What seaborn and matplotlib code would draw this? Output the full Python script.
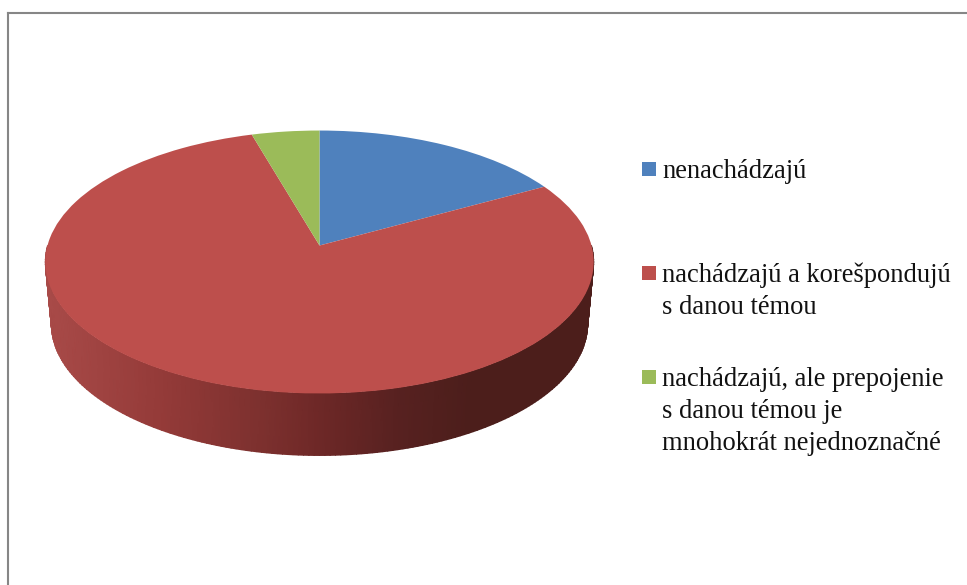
import numpy as np
import seaborn as sns
import matplotlib
matplotlib.use("Agg")
import matplotlib.pyplot as plt
from matplotlib.colors import LinearSegmentedColormap
from matplotlib.patches import Rectangle
from matplotlib.transforms import Transform

labels = ["nenachádzajú",
          "nachádzajú a korešpondujú\ns danou témou",
          "nachádzajú, ale prepojenie\ns danou témou je\nmnohokrát nejednoznačné"]
shares = [17.0, 78.5, 4.5]
colors = ["#4f81bd", "#bd4f4c", "#9bbb59"]

sns.set_theme(style="white")
plt.rcParams["font.family"] = ["Liberation Serif", "DejaVu Serif"]

W, H = 967, 585
# pie geometry in pixels, the apex is not in the middle of the ellipse (perspective)
APEX_X, APEX_Y = 319.5, 245.5
RX, RY, PERSP = 272.0, 129.4, 0.1255
DEPTH = 62.0
SHRINK = 0.978


class Tilt(Transform):
    # maps the flat unit pie to the tilted disc
    input_dims = 2
    output_dims = 2

    def transform_non_affine(self, values):
        values = np.asarray(values, dtype=float)
        d = 1 + PERSP * values[:, 1]
        return np.column_stack([APEX_X + RX * values[:, 0] / d,
                                APEX_Y - RY * values[:, 1] / d])


tilt = Tilt()

fig = plt.figure(figsize=(W / 100, H / 100), dpi=100)
left, top = 8, 13
ax = fig.add_axes([left / W, 0, 1 - left / W, 1 - top / H])

wedges, _ = ax.pie(shares, colors=colors, startangle=90, counterclock=False,
                   wedgeprops={"linewidth": 0})
ax.set_aspect("auto")
ax.set_frame_on(True)
ax.set_xlim(left, W)
ax.set_ylim(H, top)
for w in wedges:
    w.set_transform(tilt + ax.transData)
    w.set_zorder(2)

# side wall of the disc, shaded along x
wall_cmap = LinearSegmentedColormap.from_list("wall", [
    (0.0, "#a84a48"), (0.2, "#953b39"), (0.4, "#7c302e"), (0.5, "#6e2827"),
    (0.65, "#572120"), (0.78, "#4c1e1b"), (1.0, "#4c1e1b")])
t = np.radians(np.linspace(180, 360, 181))
rim = tilt.transform_non_affine(np.column_stack([np.cos(t), np.sin(t)]))
rim_x = rim[:, 0]
rim_y = rim[:, 1]
low_x = APEX_X + (rim_x - APEX_X) * SHRINK
X = np.column_stack([rim_x, low_x])
Y = np.column_stack([rim_y, rim_y + DEPTH])
ax.pcolormesh(X, Y, X, shading="gouraud", cmap=wall_cmap, vmin=50, vmax=590, zorder=1)

# legend, the first line of each entry lines up with its square
legend_y = [178, 282, 386]
for lab, col, y in zip(labels, colors, legend_y):
    ax.add_patch(Rectangle((642, y - 16), 14, 14, facecolor=col, edgecolor="none"))
    for i, line in enumerate(lab.split("\n")):
        ax.text(662, y + i * 31.8, line, fontsize=19.1, color="#111111",
                va="baseline", ha="left")

sns.despine(ax=ax, top=False, right=True, left=False, bottom=True)
for side in ["left", "top"]:
    ax.spines[side].set_color("#868686")
    ax.spines[side].set_linewidth(1.5)

fig.savefig("out.png", dpi=100, facecolor="white")
